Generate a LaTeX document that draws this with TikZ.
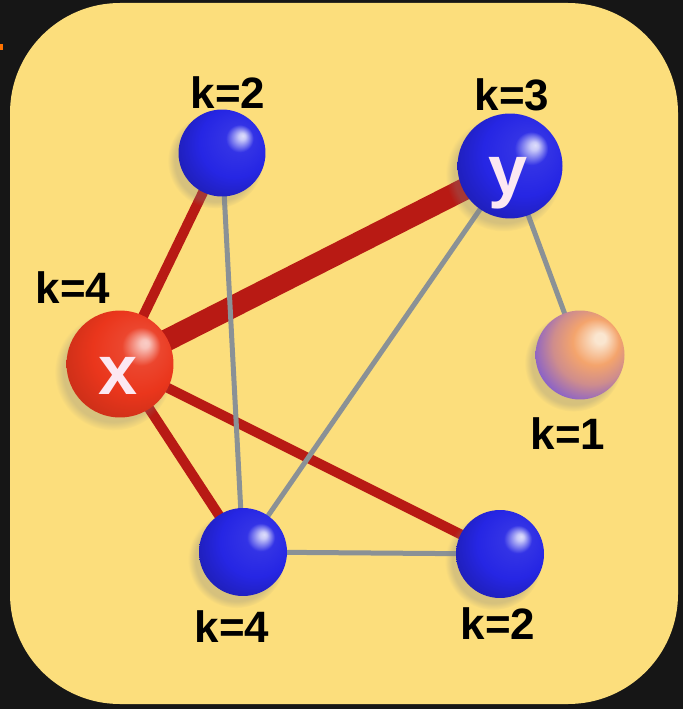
\documentclass[tikz,border=0pt]{standalone}
\usepackage{fontspec}
\setmainfont{Liberation Sans}
\usetikzlibrary{shadows}

\definecolor{bgblack}{HTML}{161616}
\definecolor{panel}{HTML}{FCDE7C}
\definecolor{linkred}{HTML}{B81A14}
\definecolor{linkgray}{HTML}{8A9196}
\definecolor{lettercol}{HTML}{FCE8F2}
\definecolor{ballblue}{HTML}{2626E4}
\definecolor{ballred}{HTML}{EA361C}
\definecolor{pinkhi}{HTML}{FAE6D0}
\definecolor{pinkmid}{HTML}{F4A46C}
\definecolor{pinklow}{HTML}{8A62C8}

% 球の陰影（光は右上から）
\pgfdeclareradialshading{blueshade}{\pgfpoint{12bp}{10bp}}{color(0bp)=(white!85!ballblue); color(2bp)=(white!75!ballblue); color(8bp)=(ballblue!94!white); color(20bp)=(ballblue); color(31bp)=(ballblue!82!black); color(50bp)=(ballblue!82!black)}
\pgfdeclareradialshading{redshade}{\pgfpoint{12bp}{10bp}}{color(0bp)=(white!75!ballred); color(2bp)=(white!70!ballred); color(9bp)=(ballred!92!white); color(20bp)=(ballred); color(31bp)=(ballred!88!black); color(50bp)=(ballred!88!black)}
\pgfdeclareradialshading{pinkshade}{\pgfpoint{12bp}{10bp}}{color(0bp)=(pinkhi); color(3bp)=(pinkhi); color(13bp)=(pinkmid); color(22bp)=(pinkmid!65!pinklow); color(31bp)=(pinklow); color(50bp)=(pinklow)}

\pgfdeclarelayer{back}
\pgfdeclarelayer{links}
\pgfsetlayers{back,links,main}

\begin{document}
\begin{tikzpicture}[x=0.02cm, y=-0.02cm,
    ball/.style={circle, inner sep=0pt,
        circular drop shadow={shadow xshift=-0.12cm, shadow yshift=-0.14cm, opacity=0.3}},
    blue ball/.style={ball, shading=blueshade, minimum size=1.74cm},
    red ball/.style={ball, shading=redshade, minimum size=2.14cm},
    pink ball/.style={ball, shading=pinkshade, minimum size=1.78cm},
    degree/.style={font=\bfseries\fontsize{25}{25}\selectfont, inner sep=0pt},
    letter/.style={text=lettercol, font=\bfseries\fontsize{40}{40}\selectfont, inner sep=0pt},
    red link/.style={draw=linkred, line width=0.2cm},
    gray link/.style={draw=linkgray, line width=0.1cm}]
    \useasboundingbox (0,0) rectangle (683,709);
    % 背景とパネル
    \begin{pgfonlayer}{back}
        \fill[bgblack] (0,0) rectangle (683,709);
        \fill[orange!90!red] (0,44) rectangle (3,50);
        \fill[panel, rounded corners=2.2cm] (10,3) rectangle (678,704);
    \end{pgfonlayer}
    % 頂点
    \node[blue ball] (top) at (222,153) {};
    \node[blue ball, minimum size=2.1cm] (y) at (510,166) {};
    \node[red ball] (x) at (120,364) {};
    \node[pink ball] (leaf) at (580,355) {};
    \node[blue ball, minimum size=1.76cm] (hub) at (243,552) {};
    \node[blue ball, minimum size=1.76cm] (right) at (500,554) {};
    % 頂点の文字
    \node[letter] (xname) at (118,376) {x};
    \node[letter] (yname) at (508,183) {y};
    % 次数
    \node[degree] (ktop) at (228,93) {k=2};
    \node[degree] (ky) at (512,95) {k=3};
    \node[degree] (kx) at (73,288) {k=4};
    \node[degree] (kleaf) at (568,434) {k=1};
    \node[degree] (khub) at (232,627) {k=4};
    \node[degree] (kright) at (498,624) {k=2};
    % 辺
    \begin{pgfonlayer}{links}
        \draw[red link, line width=0.44cm] (x.center) -- (y.center);
        \draw[red link] (x.center) -- (top.center);
        \draw[red link] (x.center) -- (hub.center);
        \draw[red link] (x.center) -- (right.center);
        \draw[gray link] (top.center) -- (hub.center);
        \draw[gray link] (y.center) -- (hub.center);
        \draw[gray link] (y.center) -- (leaf.center);
        \draw[gray link] (hub.center) -- (right.center);
    \end{pgfonlayer}
\end{tikzpicture}
\end{document}
